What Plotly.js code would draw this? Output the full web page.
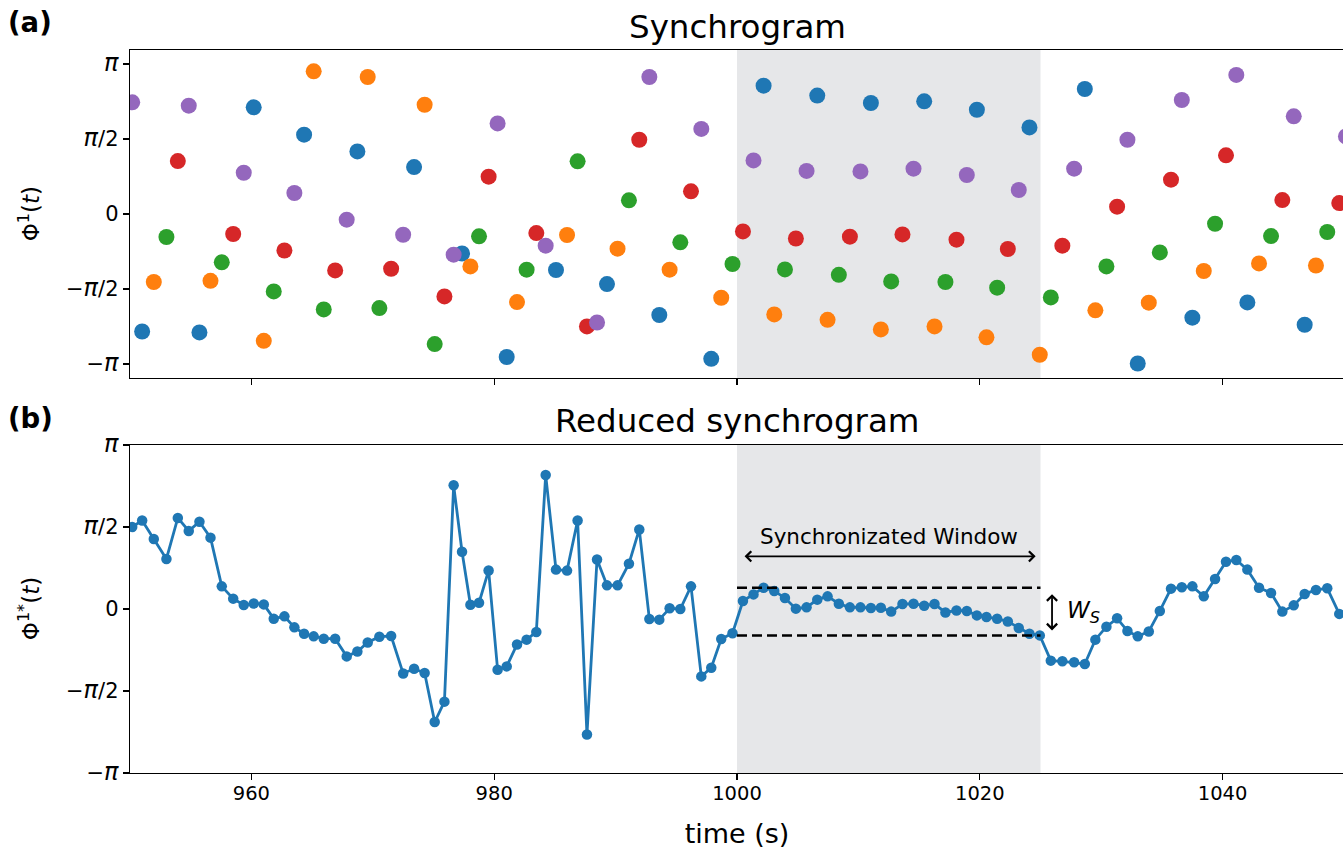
<!DOCTYPE html>
<html>
<head>
<meta charset="utf-8">
<script src="https://cdn.plot.ly/plotly-3.0.1.min.js"></script>
<style>
  html, body { margin: 0; padding: 0; overflow: hidden; background: #fff; }
  #chart { width: 1344px; height: 850px; }
</style>
</head>
<body>
<div id="chart"></div>
<script>
// Beat times (s) in the plotted stretch of the recording
const beatTimes = [
  950.18, 951.00, 951.96, 953.00, 953.94, 954.84, 955.72, 956.63, 957.56, 958.50,
  959.37, 960.19, 961.02, 961.84, 962.72, 963.54, 964.34, 965.13, 965.96, 966.90,
  967.85, 968.73, 969.58, 970.54, 971.51, 972.50, 973.40, 974.27, 975.10, 975.90,
  976.66, 977.35, 978.04, 978.75, 979.54, 980.28, 981.03, 981.88, 982.67, 983.47,
  984.24, 985.09, 986.00, 986.87, 987.64, 988.47, 989.29, 990.16, 991.10, 991.95,
  992.78, 993.60, 994.45, 995.33, 996.21, 997.06, 997.88, 998.70, 999.63, 1000.49,
  1001.36, 1002.19, 1003.07, 1003.95, 1004.85, 1005.73, 1006.61, 1007.46, 1008.39, 1009.30,
  1010.17, 1011.03, 1011.85, 1012.70, 1013.63, 1014.54, 1015.42, 1016.27, 1017.17, 1018.08,
  1018.93, 1019.76, 1020.55, 1021.43, 1022.31, 1023.21, 1024.09, 1024.94, 1025.85, 1026.80,
  1027.77, 1028.65, 1029.52, 1030.43, 1031.31, 1032.16, 1033.01, 1033.92, 1034.83, 1035.75,
  1036.64, 1037.51, 1038.45, 1039.38, 1040.28, 1041.13, 1042.04, 1043.00, 1043.99, 1044.92,
  1045.86, 1046.76, 1047.69, 1048.62, 1049.61, 1050.16
];

// Synchrogram phase at each beat, in units of pi
const phasePi = [
  0.744, -0.783, -0.453, -0.153, 0.353, 0.722, -0.789, -0.445, -0.322, -0.133,
  0.275, 0.711, -0.845, -0.516, -0.243, 0.140, 0.529, 0.951, -0.636, -0.376,
  -0.038, 0.417, 0.913, -0.627, -0.365, -0.138, 0.313, 0.728, -0.867, -0.549,
  -0.271, -0.263, -0.349, -0.149, 0.249, 0.604, -0.953, -0.587, -0.371, -0.127,
  -0.211, -0.373, -0.140, 0.351, -0.749, -0.723, -0.467, -0.231, 0.091, 0.495,
  0.913, -0.673, -0.371, -0.189, 0.151, 0.567, -0.965, -0.558, -0.333, -0.116,
  0.357, 0.855, -0.669, -0.369, -0.163, 0.287, 0.789, -0.705, -0.405, -0.151,
  0.284, 0.740, -0.769, -0.449, -0.136, 0.302, 0.751, -0.749, -0.453, -0.171,
  0.260, 0.695, -0.822, -0.491, -0.233, 0.160, 0.577, -0.938, -0.556, -0.211,
  0.302, 0.833, -0.642, -0.349, 0.049, 0.495, -0.996, -0.591, -0.256, 0.229,
  0.760, -0.691, -0.380, -0.065, 0.391, 0.927, -0.589, -0.329, -0.147, 0.093,
  0.651, -0.738, -0.343, -0.120, 0.073, 0.517
];

// Reduced synchrogram phase at each beat, in units of pi
const reducedPhasePi = [
  0.500, 0.540, 0.427, 0.305, 0.555, 0.476, 0.532, 0.435, 0.138, 0.063,
  0.024, 0.034, 0.028, -0.059, -0.045, -0.112, -0.151, -0.167, -0.181, -0.181,
  -0.289, -0.259, -0.204, -0.169, -0.165, -0.393, -0.364, -0.390, -0.689, -0.565,
  0.754, 0.349, 0.026, 0.038, 0.235, -0.370, -0.350, -0.216, -0.187, -0.140,
  0.817, 0.240, 0.234, 0.540, -0.765, 0.302, 0.144, 0.144, 0.276, 0.485,
  -0.061, -0.065, 0.004, 0.000, 0.138, -0.411, -0.358, -0.183, -0.148, 0.049,
  0.089, 0.130, 0.110, 0.067, 0.002, 0.010, 0.057, 0.077, 0.032, 0.010,
  0.010, 0.006, 0.008, -0.016, 0.030, 0.032, 0.020, 0.030, -0.021, -0.009,
  -0.012, -0.039, -0.049, -0.059, -0.076, -0.116, -0.151, -0.161, -0.315, -0.319,
  -0.325, -0.335, -0.187, -0.108, -0.057, -0.134, -0.167, -0.137, -0.012, 0.124,
  0.132, 0.138, 0.077, 0.183, 0.288, 0.299, 0.240, 0.130, 0.098, -0.016,
  0.022, 0.091, 0.116, 0.126, -0.030
];

// Synchronized window (s)
const windowStart = 1000;
const windowEnd = 1025;

// Phase axis ticks
const piGlyph = '<span style="font-size:24px"><i>\u03c0</i></span>';
const phaseTickVals = [-Math.PI, -Math.PI / 2, 0, Math.PI / 2, Math.PI];
const phaseTickText = ['\u2212' + piGlyph, '\u2212' + piGlyph + '/2', '0', piGlyph + '/2', piGlyph];
const timeTickVals = [960, 980, 1000, 1020, 1040];

// n:m = 1:5 -> beats coloured by their position within the cycle
const cycleColors = ['#1f77b4', '#ff7f0e', '#2ca02c', '#d62728', '#9467bd'];
const cycleOffset = 4;

const PI = Math.PI;
const phase = phasePi.map(v => v * PI);
const reducedPhase = reducedPhasePi.map(v => v * PI);
const reducedTimes = beatTimes.slice(0, reducedPhase.length);

const traces = [];
for (let c = 0; c < 5; c++) {
  const xs = [], ys = [];
  beatTimes.forEach((t, i) => {
    if ((i + cycleOffset) % 5 === c) { xs.push(t); ys.push(phase[i]); }
  });
  traces.push({
    type: 'scatter', mode: 'markers', x: xs, y: ys,
    xaxis: 'x', yaxis: 'y',
    marker: { color: cycleColors[c], size: 16 },
    cliponaxis: true, showlegend: false, hoverinfo: 'x+y'
  });
}
traces.push({
  type: 'scatter', mode: 'lines+markers', x: reducedTimes, y: reducedPhase,
  xaxis: 'x2', yaxis: 'y2',
  line: { color: '#1f77b4', width: 2.8 },
  marker: { color: '#1f77b4', size: 10.5 },
  cliponaxis: true, showlegend: false
});

// Spread of the reduced phase inside the window
const inWin = reducedPhase.filter((v, i) => reducedTimes[i] >= windowStart && reducedTimes[i] <= windowEnd);
const winMax = Math.max(...inWin);
const winMin = Math.min(...inWin);

const font = { family: 'DejaVu Sans, sans-serif', color: '#000' };
const sized = s => Object.assign({}, font, { size: s });

const commonX = {
  range: [950, 1050], tickvals: timeTickVals, ticks: 'outside', ticklen: 6, tickwidth: 1.3,
  tickcolor: '#000', showline: true, linecolor: '#000', linewidth: 1.3, mirror: true,
  showgrid: false, zeroline: false, tickfont: sized(19.5), ticklabelstandoff: -4
};
const commonY = {
  tickvals: phaseTickVals, ticktext: phaseTickText, ticks: 'outside', ticklen: 6, tickwidth: 1.3,
  tickcolor: '#000', showline: true, linecolor: '#000', linewidth: 1.3, mirror: true,
  showgrid: false, zeroline: false, tickfont: sized(21)
};

const topDomain = [0.5463, 1];
const botDomain = [0, 0.4537];

const layout = {
  width: 1344, height: 850,
  margin: { l: 130, r: 0, t: 50, b: 77 },
  paper_bgcolor: '#fff', plot_bgcolor: '#fff',
  font: font,
  xaxis: Object.assign({}, commonX, { anchor: 'y', domain: [0, 1], showticklabels: false }),
  xaxis2: Object.assign({}, commonX, {
    anchor: 'y2', domain: [0, 1], matches: 'x',
    title: { text: 'time (s)', font: sized(27), standoff: 20 }
  }),
  yaxis: Object.assign({}, commonY, { domain: topDomain, range: [-1.093 * PI, 1.093 * PI] }),
  yaxis2: Object.assign({}, commonY, { domain: botDomain, range: [-PI, PI] }),
  shapes: [
    { type: 'rect', xref: 'x', yref: 'y domain', x0: windowStart, x1: windowEnd, y0: 0, y1: 1,
      fillcolor: '#e6e7e9', line: { width: 0 }, layer: 'below' },
    { type: 'rect', xref: 'x2', yref: 'y2 domain', x0: windowStart, x1: windowEnd, y0: 0, y1: 1,
      fillcolor: '#e6e7e9', line: { width: 0 }, layer: 'below' },
    { type: 'line', xref: 'x2', yref: 'y2', x0: windowStart, x1: windowEnd, y0: winMax, y1: winMax,
      line: { color: '#000', width: 2.5, dash: '10px,5px' } },
    { type: 'line', xref: 'x2', yref: 'y2', x0: windowStart, x1: windowEnd, y0: winMin, y1: winMin,
      line: { color: '#000', width: 2.5, dash: '10px,5px' } }
  ],
  annotations: [
    { text: 'Synchrogram', xref: 'x domain', yref: 'y domain', x: 0.5, y: 1, yshift: 23,
      xanchor: 'center', yanchor: 'middle', showarrow: false, font: sized(32.5) },
    { text: 'Reduced synchrogram', xref: 'x2 domain', yref: 'y2 domain', x: 0.5, y: 1, yshift: 24,
      xanchor: 'center', yanchor: 'middle', showarrow: false, font: sized(32.5) },
    { text: '<b>(a)</b>', xref: 'paper', yref: 'paper', x: -0.102, y: 1.0, yshift: 28,
      xanchor: 'left', yanchor: 'middle', showarrow: false, font: sized(27.5) },
    { text: '<b>(b)</b>', xref: 'paper', yref: 'y2 domain', x: -0.102, y: 1, yshift: 27,
      xanchor: 'left', yanchor: 'middle', showarrow: false, font: sized(27.5) },
    { text: '\u03a6<sup>1</sup>(<i>t</i>)', xref: 'paper', yref: 'y domain', x: -0.083, y: 0.5,
      xanchor: 'center', yanchor: 'middle', textangle: -90, showarrow: false, font: sized(23) },
    { text: '\u03a6<sup>1*</sup>(<i>t</i>)', xref: 'paper', yref: 'y2 domain', x: -0.083, y: 0.5,
      xanchor: 'center', yanchor: 'middle', textangle: -90, showarrow: false, font: sized(23) },
    // horizontal double arrow marking the window
    { text: '', xref: 'x2', yref: 'y2', axref: 'x2', ayref: 'y2',
      x: windowEnd - 0.4, y: 0.321 * PI, ax: windowStart + 0.5, ay: 0.321 * PI,
      showarrow: true, arrowside: 'end+start', arrowhead: 4, startarrowhead: 4,
      arrowsize: 1.1, startarrowsize: 1.1, arrowwidth: 1.8, arrowcolor: '#000' },
    { text: 'Synchronizated Window', xref: 'x2', yref: 'y2', x: (windowStart + windowEnd) / 2, y: 0.443 * PI,
      xanchor: 'center', yanchor: 'middle', showarrow: false, font: sized(21.5) },
    // vertical double arrow for the window width
    { text: '', xref: 'x2', yref: 'y2', axref: 'x2', ayref: 'y2',
      x: windowEnd + 0.95, y: winMin, ax: windowEnd + 0.95, ay: winMax,
      showarrow: true, arrowside: 'end+start', arrowhead: 4, startarrowhead: 4,
      arrowsize: 1.1, startarrowsize: 1.1, arrowwidth: 1.8, arrowcolor: '#000', standoff: 5, startstandoff: 5 },
    { text: '<i>W</i><sub><i>S</i></sub>', xref: 'x2', yref: 'y2', x: windowEnd + 2.0, y: (winMax + winMin) / 2,
      xanchor: 'left', yanchor: 'middle', showarrow: false, font: sized(23) }
  ]
};

Plotly.newPlot('chart', traces, layout, { displayModeBar: false, staticPlot: true });
</script>
</body>
</html>
